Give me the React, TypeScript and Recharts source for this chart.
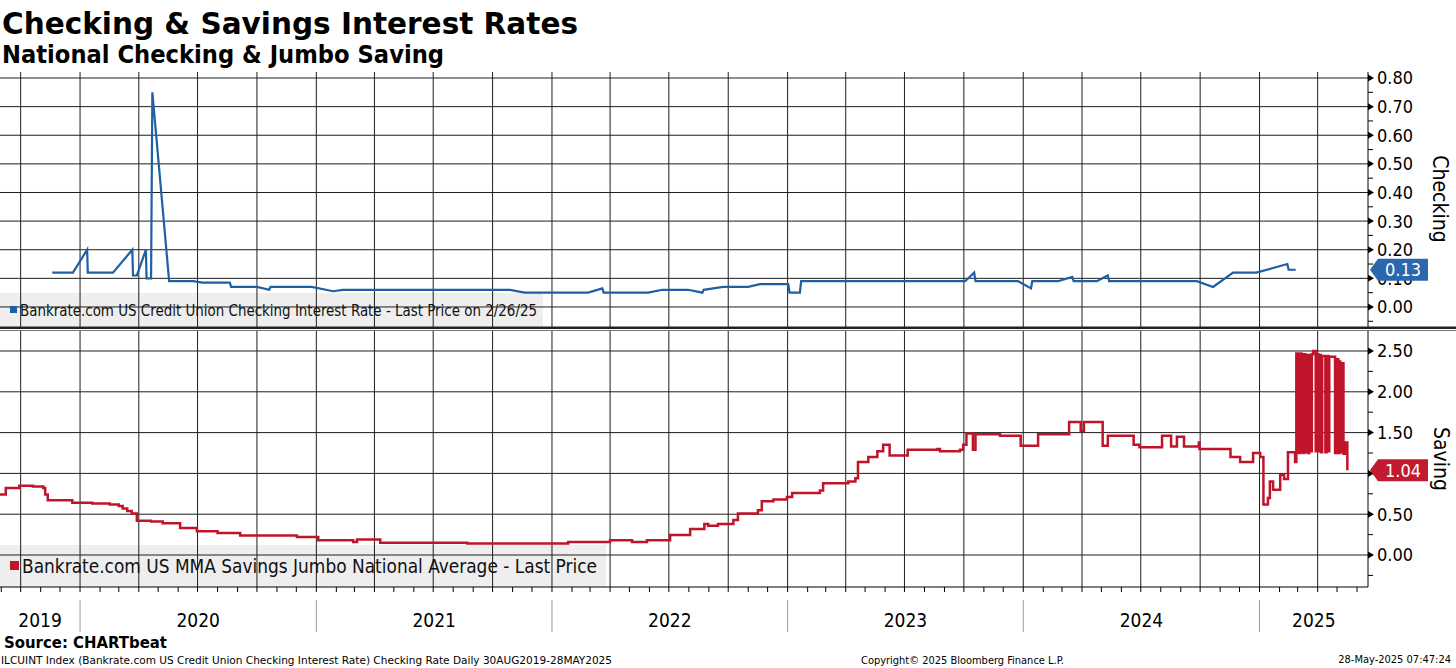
import React from "react";
import { LineChart, Line, XAxis, YAxis, ReferenceLine } from "recharts";

const FONT = "'DejaVu Sans Condensed', 'DejaVu Sans', sans-serif";
const W = 1456;
const H = 668;
const AXIS_W = 88;
const BLUE = "#1f5fa4";
const RED = "#c0142b";
const GRID = "#1e1e1e";

// Bankrate.com US Credit Union Checking Interest Rate
const CHECKING_DATES = [
  "2019-11-19", "2019-12-21", "2020-01-12", "2020-01-13", "2020-02-21", "2020-03-22",
  "2020-03-23", "2020-03-29", "2020-04-12", "2020-04-13", "2020-04-20", "2020-04-22",
  "2020-05-18", "2020-06-24", "2020-07-09", "2020-08-20", "2020-08-22", "2020-10-01",
  "2020-10-20", "2020-10-22", "2020-12-25", "2021-01-27", "2021-02-11", "2021-10-28",
  "2021-11-20", "2022-02-26", "2022-03-20", "2022-03-22", "2022-05-30", "2022-06-21",
  "2022-07-31", "2022-08-22", "2022-08-24", "2022-09-23", "2022-11-01", "2022-11-19",
  "2023-01-02", "2023-01-04", "2023-01-20", "2023-01-22", "2023-10-03", "2023-10-17",
  "2023-10-19", "2023-12-24", "2024-01-13", "2024-01-15", "2024-02-24", "2024-03-17",
  "2024-03-19", "2024-04-24", "2024-05-11", "2024-05-13", "2024-09-26", "2024-10-21",
  "2024-11-21", "2024-12-27", "2025-02-13", "2025-02-15", "2025-02-26",
];
const CHECKING_RATES = [
  0.12, 0.12, 0.2, 0.12, 0.12, 0.2,
  0.11, 0.11, 0.2, 0.1, 0.1, 0.75,
  0.09, 0.09, 0.085, 0.085, 0.07, 0.07,
  0.06, 0.07, 0.07, 0.055, 0.06, 0.06,
  0.05, 0.05, 0.065, 0.05, 0.05, 0.06,
  0.06, 0.05, 0.06, 0.07, 0.07, 0.08,
  0.08, 0.05, 0.05, 0.09, 0.09, 0.12,
  0.09, 0.09, 0.065, 0.09, 0.09, 0.105,
  0.09, 0.09, 0.11, 0.09, 0.09, 0.07,
  0.12, 0.12, 0.15, 0.13, 0.13,
];

// Bankrate.com US MMA Savings Jumbo National Average
const SAVING_DATES = [
  "2019-08-30", "2019-09-08", "2019-09-29", "2019-10-20", "2019-11-05", "2019-11-08",
  "2019-11-12", "2019-12-20", "2020-01-20", "2020-02-16", "2020-03-01", "2020-03-07",
  "2020-03-14", "2020-03-21", "2020-03-29", "2020-04-20", "2020-05-08", "2020-06-04",
  "2020-06-30", "2020-08-01", "2020-09-05", "2020-12-02", "2021-01-04", "2021-02-27",
  "2021-03-05", "2021-04-10", "2021-08-23", "2022-01-26", "2022-04-01", "2022-05-05",
  "2022-05-28", "2022-07-03", "2022-08-03", "2022-08-25", "2022-08-31", "2022-09-15",
  "2022-10-09", "2022-10-16", "2022-11-16", "2022-11-22", "2022-12-10", "2022-12-31",
  "2023-01-08", "2023-02-20", "2023-02-25", "2023-04-05", "2023-04-16", "2023-04-20",
  "2023-05-06", "2023-05-20", "2023-05-29", "2023-06-08", "2023-07-06", "2023-08-21",
  "2023-08-25", "2023-09-25", "2023-09-30", "2023-10-05", "2023-10-15", "2023-10-19",
  "2023-11-26", "2023-12-28", "2024-01-24", "2024-03-12", "2024-03-30", "2024-04-04",
  "2024-05-03", "2024-05-11", "2024-06-20", "2024-06-29", "2024-08-03", "2024-08-17",
  "2024-08-26", "2024-09-06", "2024-09-29", "2024-09-30", "2024-11-17", "2024-12-02",
  "2024-12-22", "2025-01-02", "2025-01-07", "2025-01-14", "2025-01-17", "2025-01-22",
  "2025-02-02", "2025-02-08", "2025-02-14", "2025-02-25", "2025-02-27", "2025-02-28",
  "2025-03-02", "2025-03-03", "2025-03-05", "2025-03-07", "2025-03-08", "2025-03-10",
  "2025-03-11", "2025-03-13", "2025-03-15", "2025-03-17", "2025-03-19", "2025-03-21",
  "2025-03-23", "2025-03-25", "2025-03-29", "2025-03-30", "2025-04-02", "2025-04-04",
  "2025-04-06", "2025-04-08", "2025-04-13", "2025-04-15", "2025-04-18", "2025-04-19",
  "2025-04-28", "2025-04-30", "2025-05-03", "2025-05-05", "2025-05-06", "2025-05-08",
  "2025-05-11", "2025-05-14", "2025-05-17",
];
const SAVING_RATES = [
  0.74, 0.82, 0.85, 0.84, 0.82, 0.74,
  0.67, 0.64, 0.63, 0.62, 0.6, 0.57,
  0.54, 0.51, 0.42, 0.41, 0.39, 0.33,
  0.29, 0.27, 0.24, 0.22, 0.18, 0.16,
  0.19, 0.15, 0.14, 0.16, 0.18, 0.16,
  0.18, 0.245, 0.32, 0.38, 0.36, 0.38,
  0.43, 0.51, 0.55, 0.66, 0.68, 0.71,
  0.76, 0.79, 0.88, 0.9, 0.94, 1.14,
  1.2, 1.27, 1.35, 1.22, 1.29, 1.3,
  1.27, 1.29, 1.35, 1.49, 1.29, 1.48,
  1.46, 1.34, 1.48, 1.63, 1.52, 1.63,
  1.34, 1.46, 1.35, 1.32, 1.46, 1.33,
  1.45, 1.33, 1.38, 1.3, 1.2, 1.14,
  1.25, 1.2, 0.62, 0.7, 0.9, 0.8,
  0.98, 0.93, 1.26, 1.14, 2.47, 1.26,
  2.47, 1.25, 2.47, 1.26, 2.46, 1.25,
  2.46, 1.26, 2.45, 1.25, 2.45, 1.27,
  2.46, 2.5, 1.27, 2.46, 1.27, 2.45,
  1.26, 2.44, 1.26, 2.44, 1.27, 2.43,
  1.25, 2.4, 1.25, 2.37, 1.26, 2.35,
  1.24, 1.38, 1.04,
];

const YEAR_LABELS = ["2019", "2020", "2021", "2022", "2023", "2024", "2025"];
const CHECKING_TICKS = [0, 0.1, 0.2, 0.3, 0.4, 0.5, 0.6, 0.7, 0.8];
const CHECKING_MINOR = [-0.05, 0.05, 0.15, 0.25, 0.35, 0.45, 0.55, 0.65, 0.75];
const SAVING_TICKS = [0, 0.5, 1, 1.5, 2, 2.5];
const SAVING_MINOR = [-0.25, 0.25, 0.75, 1.25, 1.75, 2.25];
const CHECKING_LAST = 0.13;
const SAVING_LAST = 1.04;

const toT = (s: string) => {
  const [y, m, d] = s.split("-").map(Number);
  return Date.UTC(y, m - 1, d);
};
const X_DOMAIN: [number, number] = [toT("2019-08-30"), toT("2025-06-18")];

const checkingData = CHECKING_DATES.map((d, i) => ({ t: toT(d), v: CHECKING_RATES[i] }));
const savingData = SAVING_DATES.map((d, i) => ({ t: toT(d), v: SAVING_RATES[i] }));

const monthStarts: number[] = [];
for (let y = 2019; y <= 2025; y++) {
  for (let m = 0; m < 12; m++) {
    const t = Date.UTC(y, m, 1);
    if (t > X_DOMAIN[0] && t < X_DOMAIN[1]) monthStarts.push(t);
  }
}
const quarterStarts = monthStarts.filter((t) => new Date(t).getUTCMonth() % 3 === 0);

const yearCenters = new Map<number, string>();
YEAR_LABELS.forEach((label) => {
  const y = Number(label);
  const a = Math.max(X_DOMAIN[0], Date.UTC(y, 0, 1));
  const b = Math.min(X_DOMAIN[1], Date.UTC(y + 1, 0, 1));
  yearCenters.set(Math.round((a + b) / 2), label);
});
const bottomTicks = [...monthStarts, ...Array.from(yearCenters.keys())].sort((a, b) => a - b);

// y ticks: minor, major, and the last price tag drawn last so it sits on top
const axisTicks = (majors: number[], minors: number[], last: number) => [
  ...[...majors, ...minors].sort((a, b) => a - b),
  last,
];

const makeRightTick = (majors: number[], last: number, tagColor: string) => (props: any) => {
  const { x, y, payload, index, visibleTicksCount } = props;
  const v = payload.value;
  const isTag = index === visibleTicksCount - 1 && Math.abs(v - last) < 1e-9;
  if (isTag) {
    return (
      <g>
        <polygon
          points={`${x + 2},${y} ${x + 10},${y - 11} ${x + 60},${y - 11} ${x + 60},${y + 11} ${x + 10},${y + 11}`}
          fill={tagColor}
        />
        <text x={x + 35} y={y} dy="0.36em" textAnchor="middle" fontSize={18} fontFamily={FONT} fill="#fff">
          {v.toFixed(2)}
        </text>
      </g>
    );
  }
  const major = majors.some((m) => Math.abs(m - v) < 1e-9);
  if (!major) {
    return <line x1={x} x2={x + 5} y1={y} y2={y} stroke="#000" strokeWidth={1} />;
  }
  return (
    <g>
      <polygon points={`${x},${y - 3.5} ${x + 6},${y} ${x},${y + 3.5}`} fill="#000" />
      <text x={x + 9} y={y} dy="0.36em" fontSize={18} fontFamily={FONT} fill="#000">
        {v.toFixed(2)}
      </text>
    </g>
  );
};

const BottomTick = (props: any) => {
  const { x, y, payload } = props;
  const v = payload.value;
  const label = yearCenters.get(v);
  if (label) {
    return (
      <text x={x} y={y + 40} textAnchor="middle" fontSize={19} fontFamily={FONT} fill="#000">
        {label}
      </text>
    );
  }
  const isJan = new Date(v).getUTCMonth() === 0;
  return (
    <g>
      <line x1={x} x2={x} y1={y} y2={y + 5} stroke="#000" />
      {isJan && <line x1={x} x2={x} y1={y + 13} y2={y + 45} stroke="#9a9a9a" />}
    </g>
  );
};

export default function App() {
  return (
    <div style={{ position: "absolute", left: 0, top: 0, width: W, height: H, background: "#fff", overflow: "hidden" }}>
      <svg width={W} height={H} style={{ position: "absolute", left: 0, top: 0 }}>
        <rect x={0} y={293} width={543} height={33} fill="#eeeeee" />
        <rect x={0} y={545} width={606} height={42} fill="#eeeeee" />
      </svg>

      <div style={{ position: "absolute", left: 0, top: 0 }}>
        <LineChart width={W} height={330} data={checkingData} margin={{ top: 72, right: 0, bottom: 3, left: 0 }}>
          <XAxis dataKey="t" type="number" domain={X_DOMAIN} allowDataOverflow hide />
          <YAxis
            orientation="right"
            width={AXIS_W}
            type="number"
            domain={[-0.07, 0.821]}
            allowDataOverflow
            ticks={axisTicks(CHECKING_TICKS, CHECKING_MINOR, CHECKING_LAST)}
            interval={0}
            tick={makeRightTick(CHECKING_TICKS, CHECKING_LAST, "#2a67ad")}
            tickLine={false}
            tickSize={0}
            tickMargin={0}
            axisLine={{ stroke: "#000" }}
          />
          {CHECKING_TICKS.map((v) => (
            <ReferenceLine key={"h" + v} y={v} stroke={GRID} strokeWidth={1} />
          ))}
          {quarterStarts.map((t) => (
            <ReferenceLine key={"v" + t} x={t} stroke={GRID} strokeWidth={1} />
          ))}
          <Line dataKey="v" type="linear" stroke={BLUE} strokeWidth={2.2} dot={false} isAnimationActive={false} />
        </LineChart>
      </div>

      <div style={{ position: "absolute", left: 0, top: 328 }}>
        <LineChart width={W} height={340} data={savingData} margin={{ top: 3, right: 0, bottom: 0, left: 0 }}>
          <XAxis
            dataKey="t"
            type="number"
            domain={X_DOMAIN}
            allowDataOverflow
            ticks={bottomTicks}
            interval={0}
            tick={BottomTick}
            tickLine={false}
            tickSize={0}
            tickMargin={0}
            height={81}
            axisLine={{ stroke: "#000" }}
          />
          <YAxis
            orientation="right"
            width={AXIS_W}
            type="number"
            domain={[-0.392, 2.745]}
            allowDataOverflow
            ticks={axisTicks(SAVING_TICKS, SAVING_MINOR, SAVING_LAST)}
            interval={0}
            tick={makeRightTick(SAVING_TICKS, SAVING_LAST, "#c11b30")}
            tickLine={false}
            tickSize={0}
            tickMargin={0}
            axisLine={{ stroke: "#000" }}
          />
          {SAVING_TICKS.map((v) => (
            <ReferenceLine key={"h" + v} y={v} stroke={GRID} strokeWidth={1} />
          ))}
          {quarterStarts.map((t) => (
            <ReferenceLine key={"v" + t} x={t} stroke={GRID} strokeWidth={1} />
          ))}
          <Line dataKey="v" type="stepAfter" stroke={RED} strokeWidth={2.5} dot={false} isAnimationActive={false} />
        </LineChart>
      </div>

      <svg width={W} height={H} style={{ position: "absolute", left: 0, top: 0, pointerEvents: "none" }} fontFamily={FONT}>
        <text x={2} y={34} fontSize={30} fontWeight="bold" textLength={576} lengthAdjust="spacingAndGlyphs">
          Checking &amp; Savings Interest Rates
        </text>
        <text x={2} y={63} fontSize={24} fontWeight="bold" textLength={442} lengthAdjust="spacingAndGlyphs">
          National Checking &amp; Jumbo Saving
        </text>

        <rect x={0} y={326.5} width={W} height={2.5} fill="#222" />
        <rect x={0} y={330} width={W} height={1} fill="#777" />

        <rect x={10} y={306} width={7} height={7} fill={BLUE} />
        <text x={20} y={316} fontSize={15} textLength={517} lengthAdjust="spacingAndGlyphs" fill="#111">
          Bankrate.com US Credit Union Checking Interest Rate - Last Price on 2/26/25
        </text>
        <rect x={10} y={561} width={9} height={9} fill={RED} />
        <text x={22} y={573} fontSize={20} textLength={575} lengthAdjust="spacingAndGlyphs" fill="#111">
          Bankrate.com US MMA Savings Jumbo National Average - Last Price
        </text>

        <text x={1440} y={199} fontSize={21} textAnchor="middle" dominantBaseline="central" transform="rotate(90 1440 199)">
          Checking
        </text>
        <text x={1441} y={459} fontSize={21} textAnchor="middle" dominantBaseline="central" transform="rotate(90 1441 459)">
          Saving
        </text>

        <text x={4} y={648} fontSize={15} fontWeight="bold" textLength={163} lengthAdjust="spacingAndGlyphs">
          Source: CHARTbeat
        </text>
        <text x={1} y={664} fontSize={11} textLength={611} lengthAdjust="spacingAndGlyphs">
          ILCUINT Index (Bankrate.com US Credit Union Checking Interest Rate) Checking Rate  Daily 30AUG2019-28MAY2025
        </text>
        <text x={861} y={664} fontSize={11} textLength={203} lengthAdjust="spacingAndGlyphs">
          Copyright© 2025 Bloomberg Finance L.P.
        </text>
        <text x={1451} y={663} fontSize={11} textAnchor="end">
          28-May-2025 07:47:24
        </text>
      </svg>
    </div>
  );
}
